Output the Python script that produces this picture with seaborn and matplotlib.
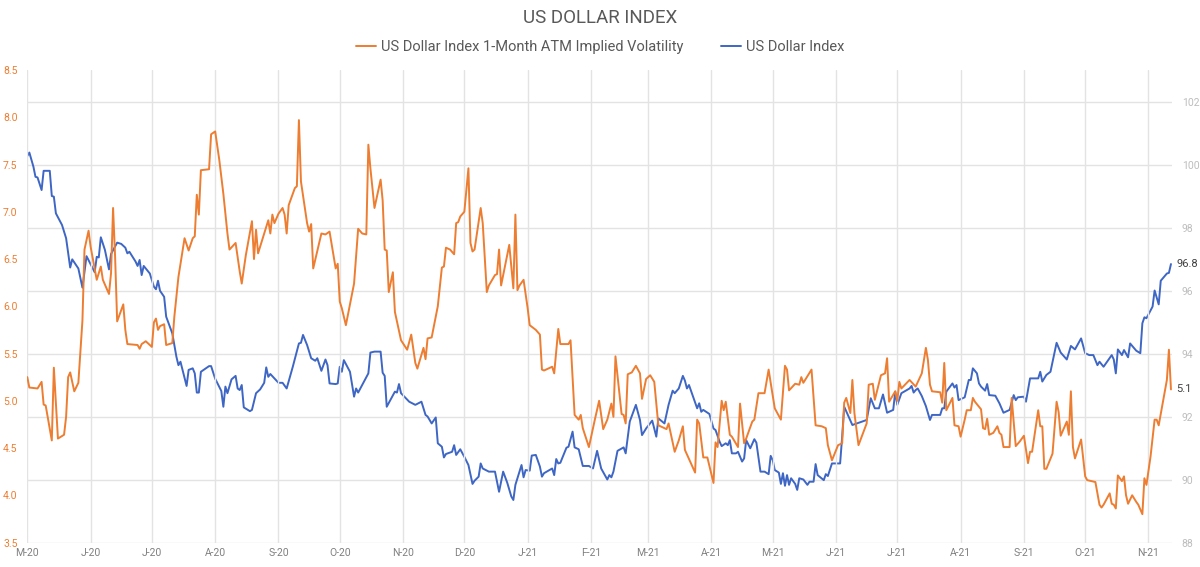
"""US Dollar Index vs its 1-month ATM implied volatility, dual axis line chart."""

import matplotlib
matplotlib.use("Agg")
import matplotlib.pyplot as plt
import matplotlib.dates as mdates
import matplotlib.ticker as mticker
import pandas as pd
import seaborn as sns

# Data: calendar day offsets from 1 May 2020 and the level on that day
START = "2020-05-01"
END_DAY = 560.5

vol_day = [
    0, 1, 5, 7, 8, 9, 12, 13, 15, 18, 19, 20, 21, 23, 25, 27, 28, 30, 31, 34, 36, 37, 40, 41, 42,
    43, 44, 47, 48, 49, 54, 55, 56, 58, 61, 62, 63, 64, 65, 67, 68, 71, 72, 74, 76, 77, 79, 81, 82,
    83, 84, 85, 89, 90, 92,
    94, 96, 98, 99, 102, 104, 105, 107, 110, 111, 112, 113, 118, 119, 120, 121, 123, 125, 126, 127,
    128, 131, 132, 133, 134, 137, 138, 139, 140, 144, 146, 148, 151, 152, 153, 154, 156, 160, 162,
    164, 166, 167, 168, 170, 173, 174, 175, 176, 177, 179, 180, 181, 183, 186,
    188, 190, 191, 194, 195, 196, 198, 201, 203, 204, 205, 207, 209, 210, 211, 212, 214, 216, 217,
    218, 219, 222, 223, 225, 226, 229, 230, 231, 232, 236, 238, 239, 240, 241, 243, 245, 246, 249,
    251, 252, 253, 257, 258, 260, 261, 265, 266, 268, 270, 271, 272, 275, 278, 280,
    282, 284, 286, 287, 288, 291, 292, 293, 294, 296, 298, 300, 301, 303, 305, 307, 309, 313, 314,
    317, 319, 321, 322, 327, 328, 329, 331, 333, 336, 337, 338, 339, 340, 341, 342, 344, 345, 348,
    349, 351, 352, 355, 356, 358, 361, 363, 364, 366, 369,
    371, 372, 373, 376, 378, 379, 380, 384, 386, 389, 391, 392, 394, 397, 399, 400, 401, 403, 404,
    405, 407, 411, 412, 414, 415, 418, 420, 421, 422, 425, 426, 427, 428, 432, 435, 438, 440, 441,
    442, 443, 447, 448, 449, 450, 453, 454, 456, 457, 459, 460, 462, 463, 464,
    467, 468, 469, 470, 471, 473, 475, 476, 477, 478, 481, 482, 484, 486, 488, 490, 491, 492, 495,
    496, 497, 498, 499, 502, 504, 505, 506, 509, 510, 511, 512, 513, 516, 518, 519, 523, 525, 526,
    527, 530, 531, 532, 533, 534, 536, 537, 538, 539, 541, 543, 544, 546, 547, 548, 550, 552, 553,
    554, 558, 559, 560,
]
vol_level = [
    5.25, 5.14, 5.13, 5.20, 4.96, 4.95, 4.58, 5.35, 4.60, 4.64, 4.83, 5.25, 5.30, 5.10, 5.19, 5.85,
    6.60, 6.80, 6.63, 6.28, 6.42, 6.28, 6.13, 6.35, 7.04, 6.52, 5.84, 6.02, 5.75, 5.60, 5.59, 5.55,
    5.60, 5.63, 5.57, 5.83, 5.87, 5.75, 5.79, 5.81, 5.59, 5.61, 5.89, 6.31, 6.58, 6.72, 6.59, 6.72,
    6.74, 7.18, 6.97, 7.44, 7.45, 7.82, 7.85,
    7.55, 7.19, 6.77, 6.60, 6.67, 6.37, 6.24, 6.54, 6.90, 6.50, 6.81, 6.56, 6.91, 6.77, 6.97, 6.88,
    6.98, 7.04, 6.97, 6.77, 7.07, 7.25, 7.27, 7.97, 7.32, 6.88, 6.79, 6.87, 6.40, 6.77, 6.76, 6.79,
    6.40, 6.45, 6.05, 5.98, 5.80, 6.24, 6.82, 6.77, 6.76, 7.71, 7.46, 7.04, 7.34, 7.12, 6.60, 6.59,
    6.15, 6.36, 5.94, 5.84, 5.64, 5.54,
    5.70, 5.40, 5.34, 5.56, 5.44, 5.66, 5.67, 6.00, 6.41, 6.42, 6.62, 6.60, 6.55, 6.88, 6.89, 6.95,
    7.00, 7.46, 6.67, 6.58, 6.60, 7.04, 6.88, 6.15, 6.22, 6.33, 6.34, 6.60, 6.22, 6.65, 6.19, 6.97,
    6.17, 6.22, 6.28, 5.98, 5.80, 5.75, 5.70, 5.33, 5.32, 5.36, 5.29, 5.76, 5.60, 5.60, 5.64, 4.85,
    4.80, 4.85, 4.71, 4.51, 4.81, 5.00,
    4.70, 4.80, 4.97, 4.83, 5.47, 4.86, 4.85, 4.76, 5.28, 5.30, 5.37, 5.29, 5.02, 5.23, 5.27, 5.20,
    4.74, 4.70, 4.76, 4.46, 4.58, 4.73, 4.48, 4.24, 4.80, 4.76, 4.40, 4.40, 4.13, 4.56, 4.51, 4.76,
    5.00, 4.90, 4.99, 4.64, 4.62, 4.51, 4.97, 4.55, 4.60, 4.78, 4.80, 5.08, 5.08, 5.33, 5.19, 4.92,
    4.80,
    5.37, 5.33, 5.11, 5.18, 5.17, 5.25, 5.19, 5.33, 4.74, 4.73, 4.71, 4.53, 4.37, 4.53, 4.55, 4.98,
    5.03, 4.87, 5.22, 4.87, 4.53, 4.76, 5.17, 5.18, 5.01, 5.27, 5.29, 5.45, 4.99, 5.10, 5.00, 5.20,
    5.13, 5.22, 5.15, 5.29, 5.56, 5.43, 5.17, 5.10, 5.09, 4.98, 5.40, 4.90, 5.03, 4.74, 4.73, 4.62,
    4.80, 4.90, 4.90, 5.03, 4.99,
    4.91, 4.71, 4.70, 4.81, 4.64, 4.66, 4.73, 4.66, 4.64, 4.51, 4.51, 5.03, 4.52, 4.57, 4.63, 4.34,
    4.46, 4.46, 4.90, 4.73, 4.73, 4.28, 4.28, 4.44, 4.99, 4.88, 4.63, 4.78, 4.64, 5.10, 4.51, 4.39,
    4.59, 4.20, 4.16, 4.14, 3.90, 3.87, 3.90, 4.02, 3.91, 3.90, 3.86, 4.21, 4.15, 4.20, 4.00, 3.91,
    4.00, 3.93, 3.90, 3.80, 4.18, 4.11, 4.41, 4.80, 4.80, 4.74, 5.22, 5.54, 5.12,
]

dxy_day = [
    0, 1, 3, 4, 5, 7, 8, 11, 12, 13, 14, 17, 19, 21, 22, 25, 27, 29, 33, 34, 35, 36, 38, 40, 41,
    44, 46, 48, 49, 50, 53, 54, 55, 56, 57, 60, 62, 63, 64, 65, 67, 68, 71, 73, 74, 75, 78, 79, 81,
    82, 83, 84, 85, 89, 90, 92,
    93, 95, 96, 97, 98, 100, 102, 103, 104, 105, 106, 109, 110, 112, 114, 116, 117, 118, 119, 122,
    123, 125, 127, 130, 133, 134, 135, 137, 139, 141, 142, 144, 146, 147, 148, 151, 152, 153, 154,
    155, 158, 160, 161, 162, 167, 168, 170, 173, 174, 175, 176, 180, 181, 182, 183, 187,
    190, 193, 195, 196, 198, 200, 201, 203, 204, 205, 208, 209, 210, 212, 214, 216, 218, 219, 221,
    222, 223, 226, 229, 231, 233, 235, 237, 238, 239, 242, 243, 244, 246, 247, 249, 251, 252, 253,
    257, 258, 259, 260, 261, 264, 265, 267, 268, 270, 272, 275, 277, 279,
    281, 284, 285, 286, 287, 289, 292, 293, 295, 298, 300, 301, 303, 306, 308, 309, 312, 314, 316,
    317, 319, 321, 322, 323, 324, 326, 328, 329, 330, 331, 334, 336, 337, 339, 340, 342, 343, 344,
    345, 347, 348, 350, 351, 352, 354, 356, 357, 359, 361, 363, 364, 365, 366, 368,
    369, 370, 371, 372, 373, 374, 376, 377, 378, 380, 382, 383, 385, 386, 387, 390, 391, 392, 394,
    398, 399, 400, 404, 407, 411, 413, 415, 417, 419, 421, 424, 425, 426, 428, 432, 433, 434, 435,
    436, 438, 440, 442, 443, 447, 448, 449, 450, 453, 454, 455, 456, 459, 461, 462, 463, 465, 466,
    467, 469, 470, 471, 474, 476, 478, 481, 483, 484, 485, 488, 489, 491, 495, 496, 497, 499, 501,
    504, 506, 509, 511, 513, 516, 518, 520, 522, 524, 525, 527, 531, 532, 533, 534, 536, 537, 539,
    540, 543, 545, 546, 547, 548, 551, 552, 554, 555, 558, 559, 560,
]
dxy_level = [
    100.27, 100.38, 99.93, 99.61, 99.59, 99.19, 99.80, 99.80, 99.00, 98.98, 98.45, 98.08, 97.66,
    96.73, 96.99, 96.70, 96.09, 97.09, 96.58, 97.07, 97.05, 97.69, 97.29, 96.67, 97.16, 97.52,
    97.48, 97.36, 97.18, 97.23, 96.92, 96.78, 96.97, 96.49, 96.78, 96.54, 96.12, 96.04, 96.31,
    95.99, 95.80, 95.17, 94.64, 93.90, 93.63, 93.74, 92.97, 93.48, 93.53, 93.37, 92.76, 92.76,
    93.42, 93.60, 93.60, 93.20,
    93.07, 92.81, 92.31, 92.95, 92.74, 93.18, 93.29, 92.89, 92.84, 93.00, 92.29, 92.17, 92.21,
    92.74, 92.86, 93.07, 93.56, 93.26, 93.35, 93.14, 93.07, 93.07, 92.89, 93.58, 94.32, 94.34,
    94.59, 94.27, 93.85, 93.77, 93.85, 93.45, 93.81, 93.63, 93.05, 93.03, 93.05, 93.58, 93.42,
    93.79, 93.42, 92.63, 92.89, 92.76, 93.37, 94.03, 94.06, 94.06, 93.39, 93.29, 92.31, 92.79,
    92.76, 93.03, 92.74, 92.47,
    92.37, 92.47, 92.05, 92.00, 91.78, 91.97, 91.15, 91.04, 90.70, 90.81, 90.88, 91.09, 90.78,
    90.96, 90.72, 90.46, 89.86, 89.96, 90.09, 90.51, 90.35, 90.25, 90.25, 89.61, 90.25, 89.90,
    89.46, 89.35, 89.83, 90.46, 90.07, 90.30, 90.28, 90.76, 90.78, 90.41, 90.09, 90.20, 90.35,
    90.14, 90.65, 90.51, 90.53, 91.01, 91.04, 91.52, 91.02, 90.96, 90.43, 90.43, 90.35, 90.91,
    90.35, 90.00, 90.14, 90.07, 90.25, 90.91, 91.02, 90.83, 91.84, 92.37, 91.89, 91.41, 91.62,
    91.87, 91.36, 91.94, 91.78, 92.37, 92.82, 92.74, 92.89, 93.29, 93.14, 92.89, 93.00, 92.63,
    92.26, 92.42, 92.15, 92.21, 92.08, 91.62, 91.57, 91.20, 91.06, 91.15, 91.09, 91.25, 90.83,
    90.83, 90.88, 90.57, 90.67, 91.25, 90.99, 91.28, 91.17, 90.25, 90.25, 90.17, 90.75, 90.62,
    90.30, 90.22,
    89.86, 90.20, 89.80, 90.14, 89.83, 90.04, 89.86, 89.67, 90.04, 90.00, 89.83, 89.93, 89.93,
    90.49, 90.14, 89.98, 90.17, 90.11, 90.51, 90.51, 91.36, 92.31, 91.73, 91.80, 91.89, 92.58,
    92.26, 92.26, 92.70, 92.12, 92.21, 92.79, 92.37, 92.74, 92.89, 92.97, 92.76, 92.84, 92.89,
    92.65, 92.33, 91.89, 92.05, 92.05, 92.26, 92.26, 92.79, 93.05, 92.92, 93.00, 92.52, 92.61,
    93.16, 93.16, 93.53, 93.37, 93.05,
    92.95, 92.82, 93.03, 92.68, 92.66, 92.42, 92.12, 92.21, 92.68, 92.52, 92.61, 92.63, 92.47,
    93.21, 93.21, 93.42, 93.11, 93.32, 93.42, 94.34, 94.03, 93.81, 94.24, 94.13, 94.48, 94.01,
    93.95, 93.95, 93.63, 93.74, 93.58, 93.95, 93.81, 93.37, 94.13, 93.95, 94.11, 93.88, 94.32,
    94.09, 94.01, 94.96, 95.15, 95.12, 95.49, 96.00, 95.56, 96.31, 96.54, 96.56, 96.84,
]

vol_label = "US Dollar Index 1-Month ATM Implied Volatility"
dxy_label = "US Dollar Index"
vol_ticks = [3.5, 4.0, 4.5, 5.0, 5.5, 6.0, 6.5, 7.0, 7.5, 8.0, 8.5]
dxy_ticks = [88, 90, 92, 94, 96, 98, 100, 102]

ORANGE = "#ED7D31"
BLUE = "#3E66C4"
TEXT = "#595959"
GRID = "#E3E3E3"

start = pd.Timestamp(START)
vol = pd.DataFrame({"date": start + pd.to_timedelta(vol_day, unit="D"), "level": vol_level})
dxy = pd.DataFrame({"date": start + pd.to_timedelta(dxy_day, unit="D"), "level": dxy_level})

sns.set_theme(style="white")
plt.rcParams["font.family"] = ["Roboto", "DejaVu Sans"]

fig = plt.figure(figsize=(12, 5.67), dpi=100)
ax = fig.add_axes([0.02275, 0.0432, 0.9539, 0.8333])
ax2 = ax.twinx()

# blue series and grid behind, orange series on top
ax.set_zorder(2)
ax.patch.set_visible(False)
ax2.set_zorder(1)

sns.lineplot(data=dxy, x="date", y="level", ax=ax2, color=BLUE, linewidth=1.4,
             estimator=None, sort=False, label=dxy_label, legend=False)
sns.lineplot(data=vol, x="date", y="level", ax=ax, color=ORANGE, linewidth=1.4,
             estimator=None, sort=False, label=vol_label, legend=False)

ax.set_xlim(start, start + pd.Timedelta(days=END_DAY))
ax.set_ylim(3.5, 8.5)
ax2.set_ylim(88, 103)
ax.set_yticks(vol_ticks)
ax2.set_yticks(dxy_ticks)
ax.yaxis.set_major_formatter(mticker.FormatStrFormatter("%.1f"))

ax.xaxis.set_major_locator(mdates.MonthLocator())
ax.xaxis.set_major_formatter(
    mticker.FuncFormatter(lambda v, p: mdates.num2date(v).strftime("%b")[0] + "-" + mdates.num2date(v).strftime("%y")))

ax.grid(axis="x", color=GRID, linewidth=1)
ax.grid(axis="y", visible=False)
ax2.grid(axis="y", color=GRID, linewidth=1)
ax.set_axisbelow(True)
ax2.set_axisbelow(True)

for a in (ax, ax2):
    for s in a.spines.values():
        s.set_visible(False)
    a.set_xlabel("")
    a.set_ylabel("")

ax.tick_params(axis="x", length=0, pad=4, labelsize=7.5, labelcolor="#808080")
ax.tick_params(axis="y", length=0, pad=7, labelsize=7.5, labelcolor=ORANGE)
ax2.tick_params(axis="y", length=0, pad=7, labelsize=7.5, labelcolor="#BDBDBD")

# last values next to the right edge
ax2.annotate(f"{dxy_level[-1]:.1f}", xy=(dxy["date"].iloc[-1], dxy_level[-1]),
             xytext=(4, 0), textcoords="offset points", va="center", ha="left",
             fontsize=8, color="#404040", annotation_clip=False)
ax.annotate(f"{vol_level[-1]:.1f}", xy=(vol["date"].iloc[-1], vol_level[-1]),
            xytext=(4, 0), textcoords="offset points", va="center", ha="left",
            fontsize=8, color="#404040", annotation_clip=False)

fig.text(0.5, 0.968, "US DOLLAR INDEX", ha="center", va="center", fontsize=13.5, color=TEXT)

h1, l1 = ax.get_legend_handles_labels()
h2, l2 = ax2.get_legend_handles_labels()
fig.legend(h1 + h2, l1 + l2, loc="center", bbox_to_anchor=(0.5, 0.917), ncol=2,
           frameon=False, fontsize=10.5, handlelength=1.4, handletextpad=0.3,
           columnspacing=2.6, labelcolor=TEXT)

fig.savefig("out.png", dpi=100)
plt.close(fig)
